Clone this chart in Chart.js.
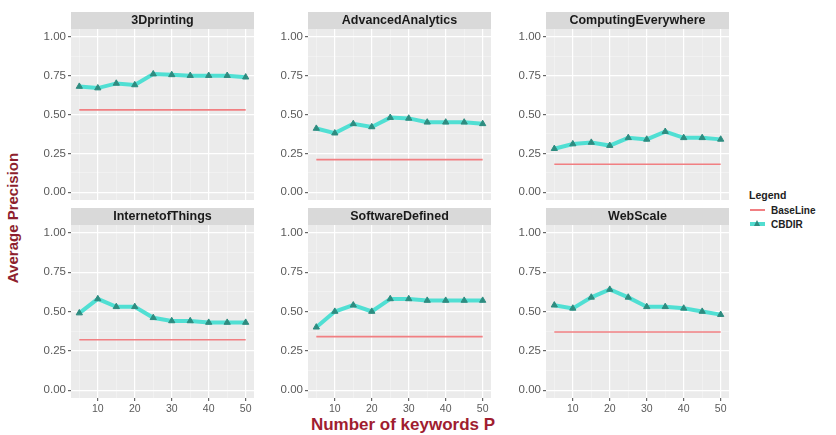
<!DOCTYPE html>
<html>
<head>
<meta charset="utf-8">
<script src="https://cdn.jsdelivr.net/npm/chart.js@4/dist/chart.umd.min.js"></script>
<style>
  html, body { margin:0; padding:0; background:#fff; }
  #wrap { position:relative; width:836px; height:435px; background:#fff; overflow:hidden; font-family:"Liberation Sans", Arial, sans-serif; }
  .pc { position:absolute; }
  #ytitle { position:absolute; left:12px; top:218px; transform:translate(-50%,-50%) rotate(-90deg); white-space:nowrap; font-weight:bold; font-size:15px; color:#8E1F2E; }
  #xtitle { position:absolute; left:403px; top:425px; transform:translate(-50%,-50%); white-space:nowrap; font-weight:bold; font-size:17px; color:#A01D30; }
  #legend { position:absolute; left:749px; top:189px; font-size:10px; color:#222; }
  #legend .t { font-weight:bold; font-size:10.5px; margin-bottom:2px; }
  #legend .it { display:flex; align-items:center; height:14px; font-weight:bold; }
  #legend .sw { position:relative; width:17px; height:14px; margin-right:5px; }
</style>
</head>
<body>
<div id="wrap">
  <div id="ytitle">Average Precision</div>
  <div id="xtitle">Number of keywords P</div>
  <div id="legend">
    <div class="t">Legend</div>
    <div class="it"><span class="sw"><span style="position:absolute;left:1px;right:1px;top:6px;height:2px;background:#F17F82"></span></span>BaseLine</div>
    <div class="it"><span class="sw"><span style="position:absolute;left:1px;right:1px;top:5px;height:4px;background:#52DDD0"></span><span style="position:absolute;left:5px;top:3px;width:0;height:0;border-left:3.5px solid transparent;border-right:3.5px solid transparent;border-bottom:6px solid #2E8C80"></span></span>CBDIR</div>
  </div>
</div>
<script>
// ---- data ----
const panelNames = ['3Dprinting','AdvancedAnalytics','ComputingEverywhere','InternetofThings','SoftwareDefined','WebScale'];
const keywordsP = [5,10,15,20,25,30,35,40,45,50];
const cbdir3Dprinting          = [0.68,0.67,0.70,0.69,0.76,0.755,0.75,0.75,0.75,0.74];
const cbdirAdvancedAnalytics   = [0.41,0.38,0.44,0.42,0.48,0.475,0.45,0.45,0.45,0.44];
const cbdirComputingEverywhere = [0.28,0.31,0.32,0.30,0.35,0.34,0.39,0.35,0.35,0.34];
const cbdirInternetofThings    = [0.49,0.58,0.53,0.53,0.46,0.44,0.44,0.43,0.43,0.43];
const cbdirSoftwareDefined     = [0.40,0.50,0.54,0.50,0.58,0.58,0.57,0.57,0.57,0.57];
const cbdirWebScale            = [0.54,0.52,0.59,0.64,0.59,0.53,0.53,0.52,0.50,0.48];
const baseLineValues = [0.53,0.21,0.18,0.32,0.34,0.37];
const yTickValues = [0,0.25,0.5,0.75,1];
const xTickValues = [10,20,30,40,50];

const cbdirSeries = [cbdir3Dprinting,cbdirAdvancedAnalytics,cbdirComputingEverywhere,cbdirInternetofThings,cbdirSoftwareDefined,cbdirWebScale];

// ---- layout ----
const colLeft = [71,308,546];
const panelW = 188;
const axisW = 40;
const rows = [{top:12,h:193,showX:false},{top:208,h:210,showX:true}];
const stripH = 17;

const bgPlugin = {
  id:'bgStrip',
  beforeDraw(chart){
    const {ctx, chartArea:a} = chart;
    ctx.save();
    ctx.fillStyle = '#EBEBEB';
    ctx.fillRect(a.left, a.top, a.right-a.left, a.bottom-a.top);
    ctx.fillStyle = '#D9D9D9';
    ctx.fillRect(a.left, 0, a.right-a.left, a.top);
    ctx.restore();
  }
};

const isMajorY = v => Math.abs(v*4 - Math.round(v*4)) < 1e-6;
const isMajorX = v => v % 10 === 0;

const wrap = document.getElementById('wrap');
panelNames.forEach((name,i)=>{
  const r = rows[Math.floor(i/3)];
  const c = i%3;
  const div = document.createElement('div');
  div.className='pc';
  const left = colLeft[c]-axisW;
  div.style.left = left+'px';
  div.style.top = r.top+'px';
  div.style.width = (axisW+panelW)+'px';
  div.style.height = r.h+'px';
  const cv = document.createElement('canvas');
  div.appendChild(cv);
  wrap.appendChild(div);

  const yMinor = [];
  for(let k=0;k<yTickValues.length;k++){ yMinor.push(yTickValues[k]); if(k<yTickValues.length-1) yMinor.push((yTickValues[k]+yTickValues[k+1])/2); }
  const xAll = [];
  xAll.push(xTickValues[0]-5);
  xTickValues.forEach((v,k)=>{ xAll.push(v); if(k<xTickValues.length-1) xAll.push(v+5); });

  new Chart(cv,{
    type:'line',
    data:{
      datasets:[
        { label:'BaseLine', data:[{x:keywordsP[0],y:baseLineValues[i]},{x:keywordsP[keywordsP.length-1],y:baseLineValues[i]}],
          borderColor:'#F17F82', borderWidth:1.6, pointRadius:0, fill:false },
        { label:'CBDIR', data:keywordsP.map((x,k)=>({x,y:cbdirSeries[i][k]})),
          borderColor:'rgba(72,222,210,0.95)', borderWidth:4, pointStyle:'triangle', pointRadius:3.6,
          pointBackgroundColor:'#2E8C80', pointBorderColor:'#2E8C80', pointBorderWidth:1, fill:false, tension:0 }
      ]
    },
    options:{
      responsive:true, maintainAspectRatio:false, animation:false,
      layout:{padding:0},
      plugins:{
        legend:{display:false}, tooltip:{enabled:false},
        title:{display:true, text:name, fullSize:false, color:'#1a1a1a', padding:0,
               font:{family:'"Liberation Sans", Arial, sans-serif', size:12.5, weight:'bold', lineHeight:stripH/12.5}}
      },
      scales:{
        x:{ type:'linear', min:2.75, max:52.25,
            afterBuildTicks(s){ s.ticks = xAll.map(v=>({value:v})); },
            afterFit(s){ s.height = r.showX ? 20 : 0; s.paddingLeft = 0; s.paddingRight = 0; },
            border:{display:false},
            grid:{ color:ctx=> isMajorX(ctx.tick.value)?'#FFFFFF':'rgba(255,255,255,0.55)',
                   lineWidth:ctx=> isMajorX(ctx.tick.value)?1.2:0.6,
                   drawTicks:r.showX, tickLength:3,
                   tickColor:ctx=> isMajorX(ctx.tick.value)?'#666':'rgba(0,0,0,0)' },
            ticks:{ display:r.showX, autoSkip:false, maxRotation:0, padding:2, color:'#5a5a5a',
                    font:{family:'"Liberation Sans", Arial, sans-serif', size:10.5},
                    callback:v=> isMajorX(v)? String(v) : '' }
        },
        y:{ min:-0.05, max:1.05,
            afterBuildTicks(s){ s.ticks = yMinor.map(v=>({value:v})); },
            afterFit(s){ s.width = axisW; s.paddingTop = 0; s.paddingBottom = 0; },
            border:{display:false},
            grid:{ color:ctx=> isMajorY(ctx.tick.value)?'#FFFFFF':'rgba(255,255,255,0.55)',
                   lineWidth:ctx=> isMajorY(ctx.tick.value)?1.2:0.6,
                   drawTicks:true, tickLength:3,
                   tickColor:ctx=> isMajorY(ctx.tick.value)?'#666':'rgba(0,0,0,0)' },
            ticks:{ autoSkip:false, padding:2, color:'#5a5a5a',
                    font:{family:'"Liberation Sans", Arial, sans-serif', size:11.5},
                    callback:v=> isMajorY(v)? v.toFixed(2) : '' }
        }
      }
    },
    plugins:[bgPlugin]
  });
});
</script>
</body>
</html>
